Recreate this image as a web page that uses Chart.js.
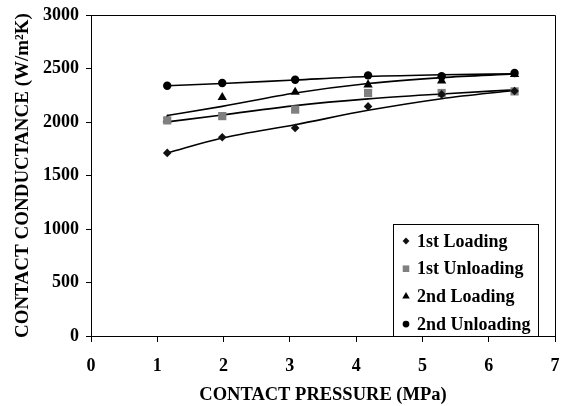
<!DOCTYPE html>
<html>
<head>
<meta charset="utf-8">
<script src="https://cdn.jsdelivr.net/npm/chart.js@4/dist/chart.umd.min.js"></script>
<style>
  html, body { margin: 0; padding: 0; background: #fff; overflow: hidden; }
  canvas { display: block; }
</style>
</head>
<body>
<canvas id="chart" width="565" height="406"></canvas>
<script>
// Contact pressure (MPa) at each measurement
const pressure = [1.15, 1.98, 3.08, 4.18, 5.29, 6.39];

// Measured contact conductance (W/m2K)
const loading1 = [1711, 1857, 1945, 2146, 2258, 2290];
const unloading1 = [2015, 2055, 2116, 2271, 2271, 2286];
const loading2 = [2022, 2230, 2280, 2348, 2385, 2445];
const unloading2 = [2339, 2364, 2395, 2436, 2428, 2458];

// Trend lines at the same pressures
const trendLoading1 = [1711, 1850, 1975, 2109, 2218, 2295];
const trendUnloading1 = [2001, 2066, 2153, 2216, 2262, 2302];
const trendLoading2 = [2060, 2146, 2271, 2360, 2415, 2448];
const trendUnloading2 = [2339, 2360, 2393, 2425, 2442, 2450];

const seriesNames = ['1st Loading', '1st Unloading', '2nd Loading', '2nd Unloading'];
const yTicks = [0, 500, 1000, 1500, 2000, 2500, 3000];
const xTicks = [0, 1, 2, 3, 4, 5, 6, 7];

const FONT = "'Liberation Serif', 'Times New Roman', serif";

function toPoints(ys) {
    return pressure.map((x, i) => ({ x: x, y: ys[i] }));
}

function trend(ys) {
    return {
        data: toPoints(ys),
        showLine: true,
        borderColor: '#000',
        borderWidth: 1.6,
        pointRadius: 0,
        tension: 0.4,
        cubicInterpolationMode: 'monotone'
    };
}

function marks(label, ys, style, color, radius) {
    return {
        label: label,
        data: toPoints(ys),
        showLine: false,
        pointStyle: style,
        pointRadius: radius,
        pointBackgroundColor: color,
        pointBorderColor: color,
        pointBorderWidth: 0
    };
}

const markSets = [
    marks(seriesNames[0], loading1, 'rectRot', '#111', 4.3),
    marks(seriesNames[1], unloading1, 'rect', '#808080', 5.8),
    marks(seriesNames[2], loading2, 'triangle', '#000', 5.4),
    marks(seriesNames[3], unloading2, 'circle', '#000', 4.2)
];

// Frame around the plot area (top and right sides)
const framePlugin = {
    id: 'frame',
    afterDraw(chart) {
        const a = chart.chartArea;
        const ctx = chart.ctx;
        ctx.save();
        ctx.strokeStyle = '#000';
        ctx.lineWidth = 1;
        ctx.beginPath();
        ctx.moveTo(a.left, a.top + 0.5);
        ctx.lineTo(a.right + 0.5, a.top + 0.5);
        ctx.lineTo(a.right + 0.5, a.bottom);
        ctx.stroke();
        ctx.restore();
    }
};

// Boxed legend sitting in the lower right of the plot
const legendPlugin = {
    id: 'boxLegend',
    afterDraw(chart) {
        const a = chart.chartArea;
        const ctx = chart.ctx;
        const right = a.right - 17;
        const left = right - 145;
        const bottom = a.bottom;
        const top = bottom - 112;
        ctx.save();
        ctx.fillStyle = '#fff';
        ctx.fillRect(left, top, right - left, bottom - top);
        ctx.strokeStyle = '#000';
        ctx.lineWidth = 1;
        ctx.strokeRect(left + 0.5, top + 0.5, right - left, bottom - top);
        ctx.font = 'bold 18px ' + FONT;
        ctx.textBaseline = 'middle';
        ctx.textAlign = 'left';
        markSets.forEach((ds, i) => {
            const y = top + 17 + i * 27.7;
            ctx.fillStyle = ds.pointBackgroundColor;
            Chart.helpers.drawPoint(ctx, {
                pointStyle: ds.pointStyle,
                radius: ds.pointRadius * 0.8,
                borderWidth: 0,
                rotation: 0
            }, left + 13, y);
            ctx.fillStyle = '#000';
            ctx.fillText(ds.label, left + 24, y + 1);
        });
        ctx.restore();
    }
};

const ctx = document.getElementById('chart').getContext('2d');
new Chart(ctx, {
    type: 'scatter',
    data: {
        datasets: markSets.concat([
            trend(trendLoading1),
            trend(trendUnloading1),
            trend(trendLoading2),
            trend(trendUnloading2)
        ])
    },
    options: {
        responsive: false,
        animation: false,
        layout: { padding: { top: 15, right: 10, left: 0, bottom: 0 } },
        plugins: {
            legend: { display: false },
            tooltip: { enabled: false }
        },
        scales: {
            x: {
                type: 'linear',
                min: 0,
                max: 7,
                afterBuildTicks: axis => { axis.ticks = xTicks.map(v => ({ value: v })); },
                afterFit: axis => {
                    axis.height = 70;
                    axis.paddingLeft = 0;
                    axis.paddingRight = 0;
                },
                border: { color: '#000', width: 1 },
                grid: { drawOnChartArea: false, color: '#000', tickLength: 6 },
                ticks: {
                    color: '#000',
                    padding: 14,
                    callback: v => String(v),
                    font: { family: FONT, size: 18, weight: 'bold' }
                },
                title: {
                    display: true,
                    text: 'CONTACT PRESSURE (MPa)',
                    color: '#000',
                    padding: { top: 0, bottom: 0 },
                    font: { family: FONT, size: 18.5, weight: 'bold' }
                }
            },
            y: {
                type: 'linear',
                min: 0,
                max: 3000,
                afterBuildTicks: axis => { axis.ticks = yTicks.map(v => ({ value: v })); },
                afterFit: axis => {
                    axis.width = 91;
                    axis.paddingTop = 0;
                    axis.paddingBottom = 0;
                },
                border: { color: '#000', width: 1 },
                grid: { drawOnChartArea: false, color: '#000', tickLength: 5 },
                ticks: {
                    color: '#000',
                    padding: 7,
                    callback: v => String(v),
                    font: { family: FONT, size: 18, weight: 'bold' }
                },
                title: {
                    display: true,
                    text: 'CONTACT CONDUCTANCE (W/m\u00B2K)',
                    color: '#000',
                    padding: { top: 12, bottom: 0 },
                    font: { family: FONT, size: 19, weight: 'bold' }
                }
            }
        }
    },
    plugins: [framePlugin, legendPlugin]
});
</script>
</body>
</html>
